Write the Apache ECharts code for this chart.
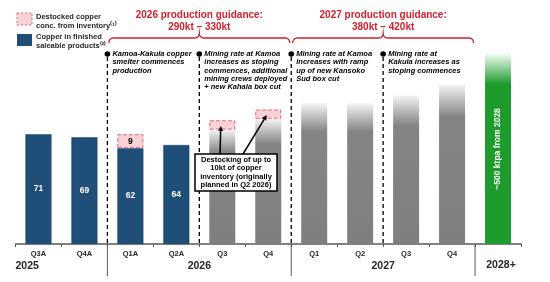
<!DOCTYPE html>
<html>
<head>
<meta charset="utf-8">
<script src="https://cdn.jsdelivr.net/npm/echarts@6/dist/echarts.min.js"></script>
<style>
  html, body { margin: 0; padding: 0; background: #fff; }
  #chart { width: 550px; height: 282px; }
</style>
</head>
<body>
<div id="chart"></div>
<script>
// Quarterly copper production (kt)
const categories = ['Q3A', 'Q4A', 'Q1A', 'Q2A', 'Q3', 'Q4', 'Q1', 'Q2', 'Q3', 'Q4', ''];
const finishedValues = [71, 69, 62, 64, '-', '-', '-', '-', '-', '-', '-'];
const forecastValues = ['-', '-', '-', '-', 74, 81, 91, 91, 96, 103, '-'];
const longTermValues = ['-', '-', '-', '-', '-', '-', '-', '-', '-', '-', 123];
const destockValues = ['-', '-', 9, '-', 6, 6, '-', '-', '-', '-', '-'];
const firstForecastIndex = 4;

const years = ['2025', '2026', '2027', '2028+'];
const yearSpans = [[0, 1], [2, 5], [6, 9], [10, 10]];

const guidance = [
  { from: 2, to: 5, title: '2026 production guidance:', range: '290kt – 330kt' },
  { from: 6, to: 9, title: '2027 production guidance:', range: '380kt – 420kt' },
];

const milestones = [
  { at: 2, text: 'Kamoa-Kakula copper\nsmelter commences\nproduction' },
  { at: 4, text: 'Mining rate at Kamoa\nincreases as stoping\ncommences, additional\nmining crews deployed\n+ new Kahala box cut' },
  { at: 6, text: 'Mining rate at Kamoa\nincreases with ramp\nup of new Kansoko\nSud box cut' },
  { at: 8, text: 'Mining rate at\nKakula increases as\nstoping commences' },
];

const FONT = '"Liberation Sans", Arial, sans-serif';
const BLUE = '#1f4e79';
const RED = '#d0212f';

const chart = echarts.init(document.getElementById('chart'));

chart.setOption({
  animation: false,
  grid: { left: 15.5, right: 29, top: 43, bottom: 38 },
  xAxis: {
    type: 'category',
    data: categories,
    axisLine: { lineStyle: { color: '#595959', width: 1.5 } },
    axisTick: { show: true, length: 3, lineStyle: { color: '#595959' } },
    axisLabel: { color: '#262626', fontSize: 7.5, fontWeight: 'bold', fontFamily: FONT, margin: 6 },
  },
  yAxis: { type: 'value', min: 0, max: 130, show: false },
  series: [
    {
      name: 'finished', type: 'bar', stack: 'cu', barWidth: 26,
      data: finishedValues,
      itemStyle: { color: BLUE, borderColor: '#163a5c', borderWidth: 0.5 },
      label: { show: true, position: 'inside', color: '#fff', fontWeight: 'bold', fontSize: 8.5, fontFamily: FONT },
    },
    {
      name: 'forecast', type: 'bar', stack: 'cu', barWidth: 26,
      data: forecastValues,
      itemStyle: {
        color: new echarts.graphic.LinearGradient(0, 0, 0, 1, [
          { offset: 0, color: '#f4f4f4' },
          { offset: 0.2, color: '#848484' },
          { offset: 1, color: '#7f7f7f' },
        ]),
      },
    },
    {
      name: 'longterm', type: 'bar', stack: 'cu', barWidth: 26,
      data: longTermValues,
      itemStyle: {
        color: new echarts.graphic.LinearGradient(0, 0, 0, 1, [
          { offset: 0, color: '#f2fbf3' },
          { offset: 0.16, color: '#1e9b2d' },
          { offset: 1, color: '#1e9b2d' },
        ]),
      },
      label: {
        show: true, position: 'inside', rotate: 90, color: '#fff',
        fontWeight: 'bold', fontSize: 8.5, fontFamily: FONT,
        formatter: '~500 ktpa from 2028',
      },
    },
    {
      name: 'destock', type: 'bar', stack: 'cu', barWidth: 26,
      data: destockValues,
      itemStyle: { color: '#f9d2d8', borderColor: '#e0687a', borderType: 'dashed', borderWidth: 1 },
      label: {
        show: true, position: 'inside', color: '#000', fontWeight: 'bold', fontSize: 8.5, fontFamily: FONT,
        formatter: p => (p.dataIndex < firstForecastIndex ? p.value : ''),
      },
    },
  ],
});

// annotation layer, positioned from the axes
const px = i => chart.convertToPixel({ xAxisIndex: 0 }, i);
const py = v => chart.convertToPixel({ yAxisIndex: 0 }, v);
const step = px(1) - px(0);
const edge = i => px(i) - step / 2;
const base = py(0);

const txt = (text, x, y, font, fill, align, vAlign, lineHeight) => ({
  type: 'text', silent: true, z: 20,
  style: {
    text, x, y, font, fill: fill || '#000',
    textAlign: align || 'left', textVerticalAlign: vAlign || 'middle',
    align: align || 'left', verticalAlign: vAlign || 'middle',
    lineHeight: lineHeight || 10,
  },
});
const line = (x1, y1, x2, y2, stroke, width, dash) => ({
  type: 'line', silent: true, z: 20,
  shape: { x1, y1, x2, y2 },
  style: { stroke, lineWidth: width, lineDash: dash || null },
});
// sample a quadratic curve into points
const quad = (p0, c, p1) => {
  const pts = [];
  for (let t = 0; t <= 1.0001; t += 0.2) {
    pts.push([
      (1 - t) * (1 - t) * p0[0] + 2 * (1 - t) * t * c[0] + t * t * p1[0],
      (1 - t) * (1 - t) * p0[1] + 2 * (1 - t) * t * c[1] + t * t * p1[1],
    ]);
  }
  return pts;
};

const graphics = [];

// legend
graphics.push({ type: 'rect', z: 20, shape: { x: 17, y: 13, width: 15, height: 12 },
  style: { fill: '#f9d2d8', stroke: '#e0687a', lineWidth: 1, lineDash: [2, 2] } });
graphics.push({ type: 'rect', z: 20, shape: { x: 17, y: 34, width: 15, height: 12 }, style: { fill: BLUE } });
graphics.push(txt('Destocked copper\nconc. from inventory⁽¹⁾', 36, 21.5, 'bold 7.5px ' + FONT, '#262626', 'left', 'middle', 9));
graphics.push(txt('Copper in finished\nsaleable products⁽²⁾', 36, 41.5, 'bold 7.5px ' + FONT, '#262626', 'left', 'middle', 9));

// guidance headings + braces
guidance.forEach(g => {
  const x1 = edge(g.from) + 1.5, x2 = edge(g.to + 1) - 1.5, xm = (x1 + x2) / 2;
  graphics.push(txt(g.title, xm, 15, 'bold 10px ' + FONT, RED, 'center'));
  graphics.push(txt(g.range, xm, 27, 'bold 10px ' + FONT, RED, 'center'));
  const y = 38;
  const pts = [].concat(
    quad([x1, y + 5], [x1, y], [x1 + 5, y]),
    quad([xm - 5, y], [xm, y], [xm, y - 5]),
    quad([xm, y - 5], [xm, y], [xm + 5, y]),
    quad([x2 - 5, y], [x2, y], [x2, y + 5])
  );
  graphics.push({ type: 'polyline', silent: true, z: 20, shape: { points: pts },
    style: { fill: null, stroke: RED, lineWidth: 1.3 } });
});

// milestones
milestones.forEach(m => {
  const x = edge(m.at);
  graphics.push(line(x, 57, x, base, '#000', 1.3, [4, 3]));
  graphics.push({ type: 'circle', silent: true, z: 20, shape: { cx: x, cy: 54, r: 2.8 }, style: { fill: '#000' } });
  graphics.push(txt(m.text, x + 5, 50, 'italic bold 7.5px ' + FONT, '#000', 'left', 'top', 8.2));
});

// year dividers under the axis
[2, 6, 10].forEach(i => graphics.push(line(edge(i), base, edge(i), 276, '#595959', 1)));

// year labels
yearSpans.forEach((s, k) => {
  const font = 'bold 10.5px ' + FONT;
  if (k === 0) graphics.push(txt(years[k], edge(0), 266, font, '#262626', 'left'));
  else if (s[0] === s[1]) graphics.push(txt(years[k], px(s[0]) + 3, 265, font, '#262626', 'center'));
  else graphics.push(txt(years[k], (edge(s[0]) + edge(s[1] + 1)) / 2, 266, font, '#262626', 'center'));
});

// destocking callout with arrows to the pink boxes
const box = { x: 195, y: 154, w: 82, h: 37 };
[[box.x + 25, 4], [box.x + 48, 5]].forEach(([sx, i]) => {
  const tx = px(i) - 1.5;
  const ty = py(forecastValues[i] + destockValues[i] / 2) + 1;
  const ang = Math.atan2(ty - box.y, tx - sx);
  const hl = 5, hw = 2.5;
  const bx = tx - hl * Math.cos(ang), by = ty - hl * Math.sin(ang);
  graphics.push(line(sx, box.y, bx, by, '#000', 1.5));
  graphics.push({
    type: 'polygon', silent: true, z: 20,
    shape: { points: [[tx, ty],
      [bx + hw * Math.sin(ang), by - hw * Math.cos(ang)],
      [bx - hw * Math.sin(ang), by + hw * Math.cos(ang)]] },
    style: { fill: '#000' },
  });
});
graphics.push({ type: 'rect', silent: true, z: 21, shape: { x: box.x, y: box.y, width: box.w, height: box.h },
  style: { fill: '#fff', stroke: '#000', lineWidth: 1.5 } });
const calloutText = txt('Destocking of up to\n10kt of copper\ninventory (originally\nplanned in Q2 2026)',
  box.x + box.w / 2, box.y + box.h / 2, 'bold 7.5px ' + FONT, '#000', 'center', 'middle', 8.4);
calloutText.z = 22;
graphics.push(calloutText);

chart.setOption({ graphic: graphics });
</script>
</body>
</html>
